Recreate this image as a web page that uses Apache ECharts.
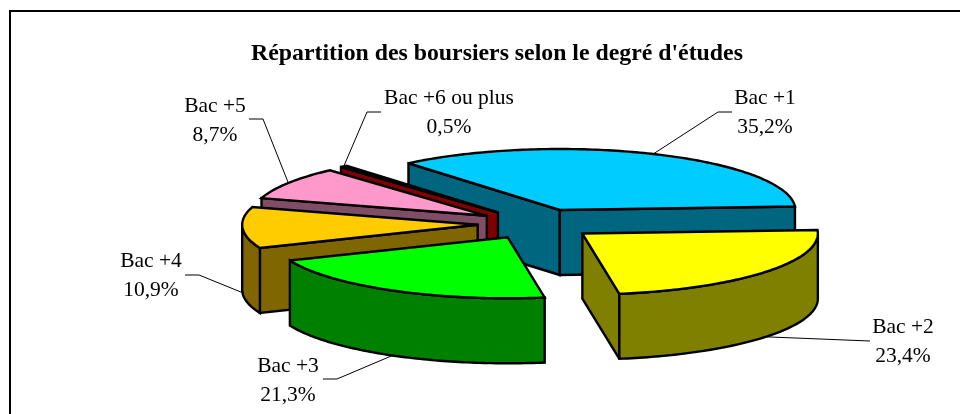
<!DOCTYPE html>
<html>
<head>
<meta charset="utf-8">
<title>Répartition des boursiers</title>
<style>
    html, body { margin: 0; padding: 0; background: #fff; }
    #pie { width: 960px; height: 414px; }
</style>
<script src="https://cdn.jsdelivr.net/npm/echarts@6/dist/echarts.min.js"></script>
</head>
<body>
<div id="pie"></div>
<script>
    let chartTitle = "Répartition des boursiers selon le degré d'études"
    let categories = ['Bac +1', 'Bac +2', 'Bac +3', 'Bac +4', 'Bac +5', 'Bac +6 ou plus']
    let shares = [35.2, 23.4, 21.3, 10.9, 8.7, 0.5]
    let topColors = ['#00CCFF', '#FFFF00', '#00FF00', '#FFCC00', '#FF99CC', '#800000']
    let sideColors = ['#006680', '#808000', '#008000', '#806600', '#804D66', '#800000']

    // label centre and leader elbow, one per slice
    let labelCentres = [[765, 113], [903, 342], [288, 381], [151, 276], [215, 121], [449, 113]]
    let labelElbows = [[718, 112], [870, 341], [337, 379], [199, 275], [263, 119], [367, 112]]

    // projected pie
    let cx = 536.5, cy = 224, rx = 235.5, ry = 61, depth = 65, explode = 0.25, startAngle = -40
    let fontFamily = '"Liberation Serif", "Times New Roman", serif'

    let total = shares.reduce((a, b) => a + b, 0)

    function toAngle(sum) {
        return echarts.number.linearMap(sum, [0, total], [startAngle, startAngle + 360])
    }

    function rimPoint(centre, deg, drop) {
        let r = deg * Math.PI / 180
        return [centre[0] + rx * Math.sin(r), centre[1] - ry * Math.cos(r) + drop]
    }

    function arcPoints(centre, from, to, drop) {
        let pts = []
        let steps = Math.max(2, Math.ceil(Math.abs(to - from)))
        for (let i = 0; i <= steps; i++) {
            pts.push(rimPoint(centre, from + (to - from) * i / steps, drop))
        }
        return pts
    }

    function renderSlice(params, api) {
        let i = params.dataIndex
        let sumBefore = shares.slice(0, i).reduce((a, b) => a + b, 0)
        let a0 = toAngle(sumBefore)
        let a1 = toAngle(sumBefore + api.value(0))
        let mid = (a0 + a1) / 2
        let midRad = mid * Math.PI / 180

        let apex = [
            cx + explode * rx * Math.sin(midRad),
            cy - explode * ry * Math.cos(midRad)
        ]
        let apexLow = [apex[0], apex[1] + depth]
        let z = 100 + Math.round(-Math.cos(midRad) * 100)
        let line = { stroke: '#000', lineWidth: 2.4, lineJoin: 'miter', miterLimit: 3 }
        let children = []

        function face(points, fill) {
            children.push({
                type: 'polygon',
                z2: z,
                shape: { points: points },
                style: Object.assign({ fill: fill }, line)
            })
        }

        // cut faces that look towards the viewer
        if (Math.sin(a0 * Math.PI / 180) < 0) {
            let p = rimPoint(apex, a0, 0)
            face([apex, p, [p[0], p[1] + depth], apexLow], sideColors[i])
        }
        if (Math.sin(a1 * Math.PI / 180) > 0) {
            let p = rimPoint(apex, a1, 0)
            face([apex, p, [p[0], p[1] + depth], apexLow], sideColors[i])
        }
        // outer wall, front half only
        let wallFrom = Math.max(a0, 90)
        let wallTo = Math.min(a1, 270)
        if (wallTo > wallFrom) {
            face(
                arcPoints(apex, wallFrom, wallTo, 0).concat(arcPoints(apex, wallTo, wallFrom, depth)),
                sideColors[i]
            )
        }
        face([apex].concat(arcPoints(apex, a0, a1, 0)), topColors[i])

        // leader and label
        let anchor = rimPoint(apex, mid, mid > 90 && mid < 270 ? depth : 0)
        let elbow = labelElbows[i]
        let centre = labelCentres[i]
        let tail = i === 1 ? elbow : [elbow[0] + (centre[0] < elbow[0] ? -14 : 14), elbow[1]]
        children.push({
            type: 'polyline',
            z2: 1,
            shape: { points: [anchor, elbow, tail] },
            style: { fill: null, stroke: '#000', lineWidth: 1 }
        })
        children.push({
            type: 'text',
            z2: 300,
            style: {
                x: centre[0],
                y: centre[1],
                text: categories[i] + '\n' + api.value(0).toFixed(1).replace('.', ',') + '%',
                font: '21.5px ' + fontFamily,
                lineHeight: 29,
                fill: '#000',
                align: 'center',
                verticalAlign: 'middle'
            }
        })
        return { type: 'group', children: children }
    }

    let option = {
        animation: false,
        backgroundColor: '#fff',
        title: {
            text: chartTitle,
            left: 492,
            top: 37,
            textAlign: 'center',
            textStyle: { fontFamily: fontFamily, fontSize: 23.8, fontWeight: 'bold', color: '#000' }
        },
        graphic: [{
            type: 'rect',
            silent: true,
            shape: { x: 10, y: 11, width: 1000, height: 500 },
            style: { fill: null, stroke: '#000', lineWidth: 2 }
        }],
        series: [{
            type: 'custom',
            coordinateSystem: 'none',
            silent: true,
            data: shares.map((v) => [v]),
            renderItem: renderSlice
        }]
    }

    let myChart = echarts.init(document.getElementById('pie'))
    myChart.setOption(option)
</script>
</body>
</html>
